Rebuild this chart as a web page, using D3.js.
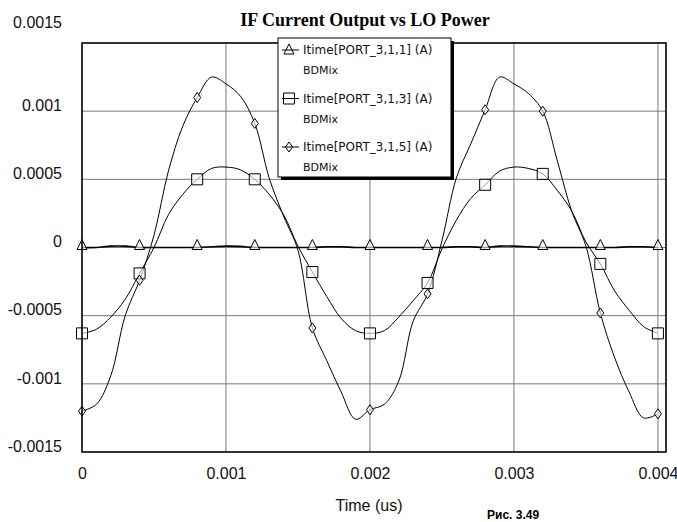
<!DOCTYPE html>
<html>
<head>
<meta charset="utf-8">
<script src="https://cdn.jsdelivr.net/npm/d3@7"></script>
<style>
  body { margin: 0; background: #fff; }
  .tick-label { font-family: "Liberation Sans", Arial, sans-serif; font-size: 16px; fill: #111; }
  .legend-text { font-family: "DejaVu Sans", sans-serif; font-size: 12px; fill: #111; }
</style>
</head>
<body>
<svg class="chart"></svg>
<script>
// time samples, 0.0001 us apart
var times = d3.range(41).map(function(i) { return i * 0.0001; });

var seriesNames = ["Itime[PORT_3,1,1] (A)", "Itime[PORT_3,1,3] (A)", "Itime[PORT_3,1,5] (A)"];
var seriesSub = "BDMix";

var port1 = [0, 0, 0.00001, 0.00001, 0, 0, 0, 0, 0, 0.000005, 0.00001,
  0.000008, 0, 0, 0, 0, 0, 0.000005, 0.000005, 0, 0, 0, 0, 0, 0,
  0, 0.000005, 0.000005, 0, 0.00001, 0.00001, 0.000005, 0, 0, 0, 0,
  0, 0, 0.000005, 0.000005, 0];

var port3 = [-0.00063, -0.00060, -0.00051, -0.00038, -0.00019, 0.0, 0.00024, 0.00039, 0.00050, 0.00058, 0.00059,
  0.00057, 0.00050, 0.00039, 0.00024, 0.00001, -0.00018, -0.00036, -0.00052, -0.00061, -0.00063,
  -0.00061, -0.00051, -0.00039, -0.00026, -0.00001, 0.00020, 0.00036, 0.00046, 0.00056, 0.00059,
  0.00058, 0.00054, 0.00042, 0.00027, 0.00004, -0.00012, -0.00032, -0.00046, -0.00058, -0.00063];

var port5 = [-0.00120, -0.00115, -0.00094, -0.00050, -0.00024, 0.00009, 0.00056, 0.00089, 0.00110, 0.00125, 0.00120,
  0.00111, 0.00091, 0.00051, 0.00023, -0.00002, -0.00059, -0.00083, -0.00106, -0.00126, -0.00119,
  -0.00115, -0.00098, -0.00054, -0.00034, 0.00005, 0.00051, 0.00076, 0.00101, 0.00125, 0.00120,
  0.00113, 0.00100, 0.00064, 0.00027, 0.00001, -0.00048, -0.00081, -0.00106, -0.00125, -0.00122];

var xTicks = [0, 0.001, 0.002, 0.003, 0.004];
var yTicks = [-0.0015, -0.001, -0.0005, 0, 0.0005, 0.001, 0.0015];
var yTickLabels = ["-0.0015", "-0.001", "-0.0005", "0", "0.0005", "0.001", "0.0015"];

var margin = {top: 43, right: 11, bottom: 70, left: 82},
    width = 677 - margin.left - margin.right,
    height = 522 - margin.top - margin.bottom;

var svg = d3.select(".chart")
    .attr("width", 677)
    .attr("height", 522);

var chart = svg.append("g")
    .attr("transform", "translate(" + margin.left + "," + margin.top + ")");

var x = d3.scaleLinear()
    .domain([0, 0.004056])
    .range([0, width]);

var y = d3.scaleLinear()
    .domain([-0.0015, 0.0015])
    .range([height, 0]);

// grid
chart.selectAll(".xgrid")
    .data(xTicks.slice(1))
  .enter().append("line")
    .attr("x1", function(d) { return x(d); })
    .attr("x2", function(d) { return x(d); })
    .attr("y1", 0)
    .attr("y2", height)
    .attr("stroke", "#7a7a7a")
    .attr("stroke-width", 1);

chart.selectAll(".ygrid")
    .data(yTicks.slice(1, -1))
  .enter().append("line")
    .attr("x1", 0)
    .attr("x2", width)
    .attr("y1", function(d) { return y(d); })
    .attr("y2", function(d) { return y(d); })
    .attr("stroke", "#7a7a7a")
    .attr("stroke-width", 1);

// axes, labels only
var yAxis = d3.axisLeft(y)
    .tickValues(yTicks)
    .tickSize(0)
    .tickPadding(20)
    .tickFormat(function(d, i) { return yTickLabels[i]; });

var yg = chart.append("g").call(yAxis);
yg.select(".domain").remove();
yg.attr("font-family", null).attr("font-size", null);
yg.selectAll("text")
    .attr("class", "tick-label")
    .attr("dy", function(d) { return d === 0.0015 ? "-1em" : "-0.05em"; });

var xAxis = d3.axisBottom(x)
    .tickValues(xTicks)
    .tickSize(0)
    .tickPadding(16)
    .tickFormat(d3.format(""));

var xg = chart.append("g")
    .attr("transform", "translate(0," + height + ")")
    .call(xAxis);
xg.select(".domain").remove();
xg.attr("font-family", null).attr("font-size", null);
xg.selectAll("text")
    .attr("class", "tick-label");

// curves
var series = [port1, port3, port5];
var markerKind = ["triangle", "square", "diamond"];

var line = d3.line()
    .x(function(d, i) { return x(times[i]); })
    .y(function(d) { return y(d); })
    .curve(d3.curveCatmullRom.alpha(0.5));

chart.selectAll(".curve")
    .data(series)
  .enter().append("path")
    .attr("class", "curve")
    .attr("d", line)
    .attr("fill", "none")
    .attr("stroke", "#000")
    .attr("stroke-width", function(d, i) { return i === 0 ? 1.6 : 1; });

function markerPath(kind) {
  if (kind === "triangle") return "M0,-6L5,4L-5,4Z";
  if (kind === "square") return "M-5.5,-5.5L5.5,-5.5L5.5,5.5L-5.5,5.5Z";
  return "M0,-5L3.5,0L0,5L-3.5,0Z";
}

series.forEach(function(s, si) {
  var pts = s.map(function(v, i) { return {t: times[i], v: v}; })
      .filter(function(d, i) { return i % 4 === 0; });
  chart.selectAll(".m" + si)
      .data(pts)
    .enter().append("path")
      .attr("class", "m" + si)
      .attr("transform", function(d) { return "translate(" + x(d.t) + "," + (y(d.v) - (si === 0 ? 2 : 0)) + ")"; })
      .attr("d", markerPath(markerKind[si]))
      .attr("fill", "#fff")
      .attr("fill-opacity", 0.6)
      .attr("stroke", "#000")
      .attr("stroke-width", 1);
});

// plot border
chart.append("rect")
    .attr("x", 0)
    .attr("y", 0)
    .attr("width", width)
    .attr("height", height)
    .attr("fill", "none")
    .attr("stroke", "#000")
    .attr("stroke-width", 1.6);

// legend
var legend = svg.append("g")
    .attr("transform", "translate(278,38)");

legend.append("rect")
    .attr("x", 3)
    .attr("y", 3)
    .attr("width", 173)
    .attr("height", 139)
    .attr("fill", "#000");

legend.append("rect")
    .attr("x", 0)
    .attr("y", 0)
    .attr("width", 173)
    .attr("height", 139)
    .attr("fill", "#fff")
    .attr("stroke", "#000")
    .attr("stroke-width", 1);

var rows = legend.selectAll(".lrow")
    .data(seriesNames)
  .enter().append("g")
    .attr("class", "lrow")
    .attr("transform", function(d, i) { return "translate(0," + (12 + i * 48.5) + ")"; });

rows.append("line")
    .attr("x1", 4)
    .attr("x2", 21)
    .attr("y1", 0)
    .attr("y2", 0)
    .attr("stroke", "#000")
    .attr("stroke-width", 1);

rows.append("path")
    .attr("transform", "translate(11,0)")
    .attr("d", function(d, i) { return markerPath(markerKind[i]); })
    .attr("fill", "none")
    .attr("stroke", "#000")
    .attr("stroke-width", 1);

rows.append("text")
    .attr("class", "legend-text")
    .attr("x", 25)
    .attr("y", 4)
    .text(function(d) { return d; });

rows.append("text")
    .attr("class", "legend-text")
    .attr("x", 25)
    .attr("y", 24)
    .style("font-size", "11px")
    .text(seriesSub);

// titles
svg.append("text")
    .attr("x", 365)
    .attr("y", 26)
    .attr("text-anchor", "middle")
    .style("font-family", "'Liberation Serif', 'Times New Roman', serif")
    .style("font-weight", "bold")
    .style("font-size", "18px")
    .text("IF Current Output vs LO Power");

svg.append("text")
    .attr("class", "tick-label")
    .attr("x", 369)
    .attr("y", 511)
    .attr("text-anchor", "middle")
    .text("Time (us)");

svg.append("text")
    .attr("x", 487)
    .attr("y", 519)
    .style("font-family", "'Liberation Sans', Arial, sans-serif")
    .style("font-weight", "bold")
    .style("font-size", "12px")
    .text("Рис. 3.49");
</script>
</body>
</html>
